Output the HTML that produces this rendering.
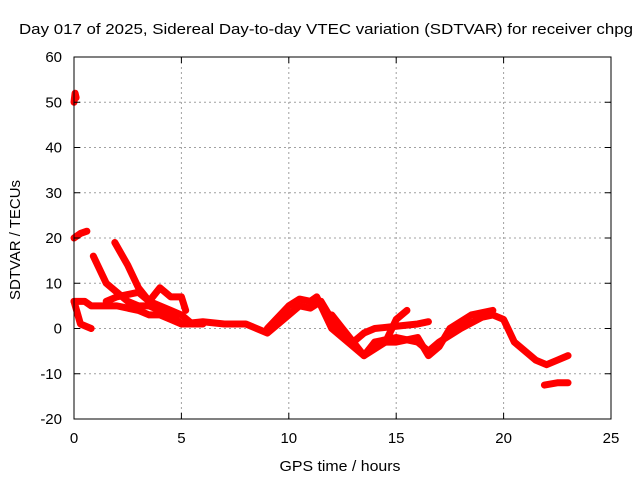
<!DOCTYPE html>
<html><head><meta charset="utf-8"><style>
body{margin:0;background:#fff;}
svg{display:block;font-family:"Liberation Sans",sans-serif;font-size:15px;}
</style></head><body>
<svg id="chart" width="640" height="480" viewBox="0 0 640 480">
<text x="19" y="34" textLength="614" lengthAdjust="spacingAndGlyphs">Day 017 of 2025, Sidereal Day-to-day VTEC variation (SDTVAR) for receiver chpg</text>
<g id="grid"></g>
<g id="series"></g>
<rect x="74" y="57" width="537" height="362" fill="none" stroke="#000" stroke-width="1"/>
<g id="ticks"></g>
<text x="340" y="471" text-anchor="middle" textLength="121" lengthAdjust="spacingAndGlyphs">GPS time / hours</text>
<text transform="translate(20,240) rotate(-90)" text-anchor="middle" textLength="120" lengthAdjust="spacingAndGlyphs">SDTVAR / TECUs</text>
</svg>
<script>
const xTicks=[0,5,10,15,20,25];
const yTicks=[-20,-10,0,10,20,30,40,50,60];
const trackA=[[0,50],[0.05,52],[0.1,51]];
const trackB=[[0,20],[0.3,21],[0.6,21.5]];
const trackC=[[0,6],[0.5,6],[0.8,5],[1,5],[2,5],[3,4],[3.5,3],[4,3],[4.5,2],[5,1],[6,1.5],[7,1],[8,1],[9,-1],[10,3],[10.5,5],[11,4.5],[11.5,6],[12,2],[13,-3],[13.5,-6],[14,-3],[15,-2],[16,-3],[16.5,-5],[17,-3],[18,0],[19,2.5],[19.5,3],[20,2],[20.5,-3],[21.5,-7],[22,-8],[22.5,-7],[23,-6]];
const trackD=[[0,6],[0.3,1],[0.8,0]];
const trackE=[[0.9,16],[1.5,10],[2,8],[2.5,6],[3,5],[3.5,5],[4,4],[4.5,3],[5,1],[6,1]];
const trackF=[[1.9,19],[2.5,14],[3,9],[3.5,6],[4,5],[4.5,4],[5,3],[5.5,1]];
const trackG=[[1.5,6],[2,7],[3,8],[3.5,6],[4,9],[4.5,7],[5,7],[5.2,4]];
const trackH=[[9,0],[10,5],[10.5,6.5],[11,6],[11.3,7],[12,0],[13,-4],[13.5,-6],[14.5,-3],[15,2],[15.5,4]];
const trackI=[[12,3],[12.5,0],[13,-3],[13.5,-1],[14,0],[15,0.5],[16,1],[16.5,1.5]];
const trackJ=[[14,-3],[15,-3],[16,-2],[16.5,-6],[17,-4],[17.5,0],[18.5,3],[19.5,4]];
const trackK=[[21.9,-12.5],[22.5,-12],[23,-12]];
const tracks=[trackA,trackB,trackC,trackD,trackE,trackF,trackG,trackH,trackI,trackJ,trackK];
const X0=74,X1=611,Y0=419,Y1=57;
const xs=h=>X0+(h-0)/(25-0)*(X1-X0);
const ys=v=>Y0-(v+20)/(80)*(Y0-Y1);
const NS="http://www.w3.org/2000/svg";
const grid=document.getElementById('grid'),ticks=document.getElementById('ticks'),ser=document.getElementById('series');
function mk(tag,attrs,parent){const e=document.createElementNS(NS,tag);for(const k in attrs)e.setAttribute(k,attrs[k]);parent.appendChild(e);return e;}
xTicks.forEach(t=>{const x=xs(t);
 if(t>0&&t<25){const g=mk('line',{x1:x,x2:x,y1:Y1,y2:Y0,stroke:'#a0a0a0','stroke-dasharray':'2,3'},grid);
 
 }
 mk('line',{x1:x,x2:x,y1:Y0,y2:Y0-6,stroke:'#000'},ticks);
 mk('line',{x1:x,x2:x,y1:Y1,y2:Y1+6,stroke:'#000'},ticks);
 const l=mk('text',{x:x,y:Y0+24,'text-anchor':'middle'},ticks);l.textContent=t;
 
 });
yTicks.forEach(t=>{const y=ys(t);
 if(t>-20&&t<60){const g=mk('line',{x1:X0,x2:X1,y1:y,y2:y,stroke:'#a0a0a0','stroke-dasharray':'2,3'},grid);
 
 }
 mk('line',{x1:X0,x2:X0+6,y1:y,y2:y,stroke:'#000'},ticks);
 mk('line',{x1:X1,x2:X1-6,y1:y,y2:y,stroke:'#000'},ticks);
 const l=mk('text',{x:X0-12,y:y+5,'text-anchor':'end'},ticks);l.textContent=t;
 
 });
tracks.forEach(tr=>{const p=mk('polyline',{points:tr.map(d=>xs(d[0])+','+ys(d[1])).join(' '),fill:'none',stroke:'#ff0000','stroke-width':7,'stroke-linejoin':'round','stroke-linecap':'round'},ser);
 
 });
</script>
</body></html>
